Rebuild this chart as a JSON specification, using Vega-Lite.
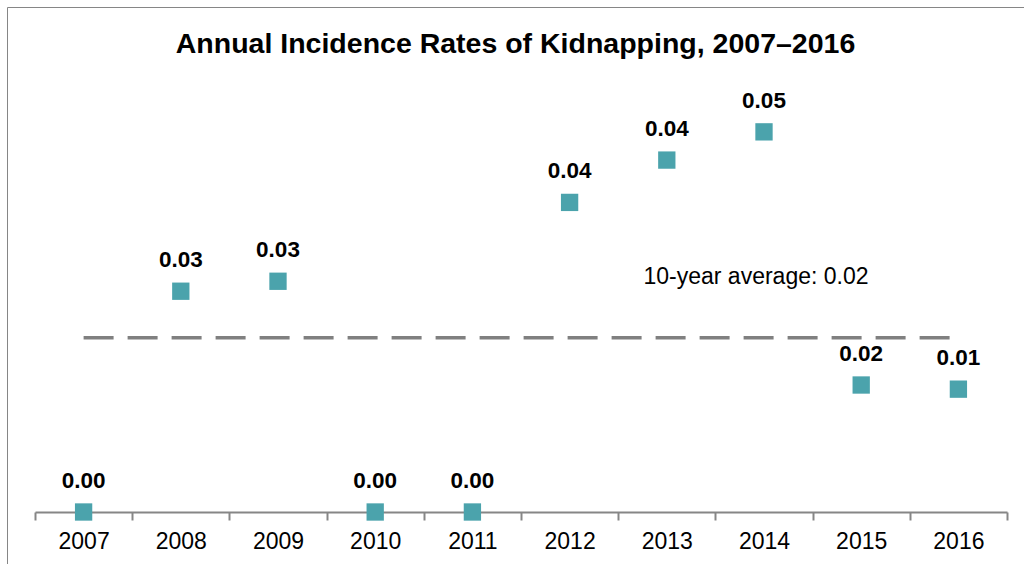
{
  "$schema": "https://vega.github.io/schema/vega-lite/v6.json",
  "width": 1017,
  "height": 557,
  "autosize": "none",
  "padding": {"left": 7, "top": 7, "right": 0, "bottom": 0},
  "background": "white",
  "config": {
    "view": {"stroke": "#868686", "strokeWidth": 1},
    "font": "Liberation Sans"
  },
  "title": {
    "text": "Annual Incidence Rates of Kidnapping, 2007–2016",
    "fontSize": 28.5,
    "fontWeight": "bold",
    "font": "Liberation Sans",
    "color": "black",
    "anchor": "middle",
    "offset": -48,
    "dy": 26,
    "baseline": "alphabetic"
  },
  "data": {
    "values": [
      {"year": "2007", "rate": 0.0},
      {"year": "2008", "rate": 0.0266},
      {"year": "2009", "rate": 0.0278},
      {"year": "2010", "rate": 0.0},
      {"year": "2011", "rate": 0.0},
      {"year": "2012", "rate": 0.0373},
      {"year": "2013", "rate": 0.0424},
      {"year": "2014", "rate": 0.0458},
      {"year": "2015", "rate": 0.0153},
      {"year": "2016", "rate": 0.0148}
    ]
  },
  "encoding": {
    "x": {
      "field": "year",
      "type": "ordinal",
      "scale": {"range": [28, 1000], "paddingInner": 0, "paddingOuter": 0},
      "axis": {
        "title": null,
        "orient": "bottom",
        "offset": -52,
        "grid": false,
        "domainColor": "#868686",
        "domainWidth": 2,
        "tickColor": "#868686",
        "tickWidth": 2,
        "tickSize": 8,
        "tickBand": "extent",
        "labelFontSize": 23,
        "labelFont": "Liberation Sans",
        "labelColor": "black",
        "labelPadding": 10,
        "labelAngle": 0
      }
    }
  },
  "layer": [
    {
      "transform": [{"aggregate": [{"op": "mean", "field": "rate", "as": "avg"}]}],
      "mark": {"type": "rule", "color": "#808080", "strokeWidth": 3.5, "strokeDash": [30, 14]},
      "encoding": {
        "x": {"datum": "2007", "type": "ordinal"},
        "x2": {"datum": "2016"},
        "y": {"field": "avg", "type": "quantitative", "scale": {"domain": [0, 0.05], "range": [505, 90]}, "axis": null}
      }
    },
    {
      "mark": {"type": "square", "size": 300, "color": "#4BA3AC", "opacity": 1, "filled": true},
      "encoding": {
        "y": {"field": "rate", "type": "quantitative", "scale": {"domain": [0, 0.05], "range": [505, 90]}, "axis": null}
      }
    },
    {
      "mark": {"type": "text", "fontSize": 22.5, "fontWeight": "bold", "color": "black", "dy": -24, "baseline": "alphabetic", "font": "Liberation Sans"},
      "encoding": {
        "y": {"field": "rate", "type": "quantitative", "scale": {"domain": [0, 0.05], "range": [505, 90]}, "axis": null},
        "text": {"field": "rate", "type": "quantitative", "format": ".2f"}
      }
    },
    {
      "transform": [{"aggregate": [{"op": "mean", "field": "rate", "as": "avg"}]}],
      "mark": {"type": "text", "fontSize": 23, "color": "black", "dy": -54, "dx": -8, "baseline": "alphabetic", "font": "Liberation Sans", "text": "10-year average: 0.02"},
      "encoding": {
        "x": {"datum": "2014", "type": "ordinal"},
        "y": {"field": "avg", "type": "quantitative", "scale": {"domain": [0, 0.05], "range": [505, 90]}, "axis": null}
      }
    }
  ]
}
